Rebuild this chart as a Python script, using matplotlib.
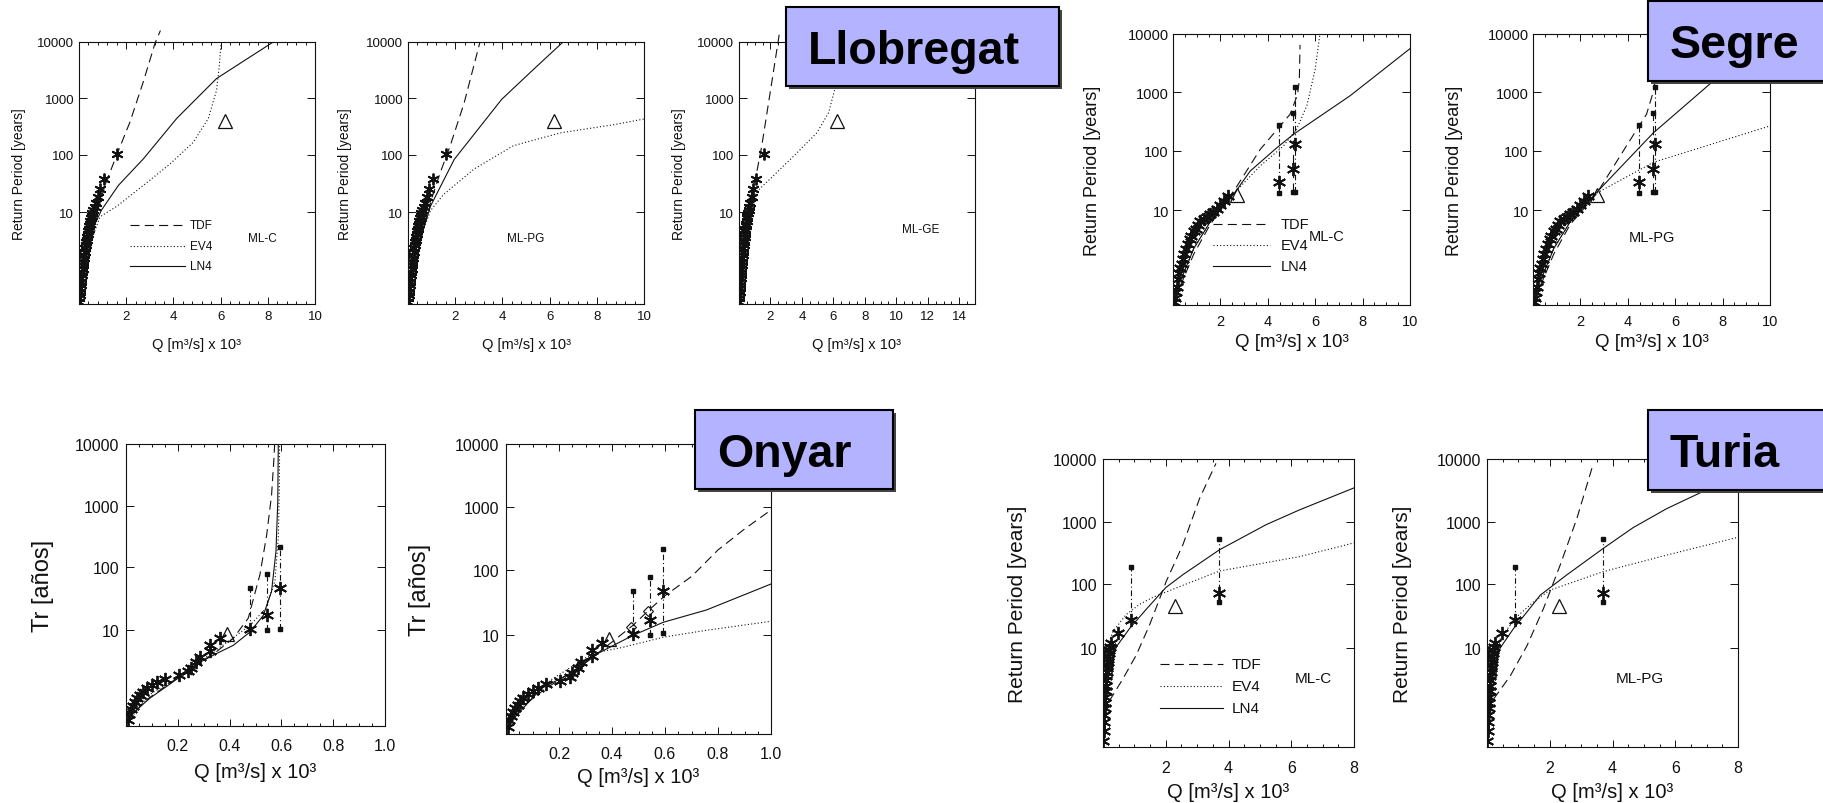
"""Gumbel return-period plots: Llobregat, Segre, Onyar and Turia flood fits."""
import numpy as np
import matplotlib
matplotlib.use("Agg")
import matplotlib.pyplot as plt
from matplotlib.patches import Rectangle
from matplotlib.ticker import NullLocator

# ---------------------------------------------------------------------------
# Data (Q in m3/s x 10^3, T = return period in years)
# ---------------------------------------------------------------------------
T_TICKS = [10, 100, 1000, 10000]

# Llobregat: observed annual maxima and historical flood (triangle)
LLOB_Q = [1.60, 1.05, 0.90, 0.80, 0.72, 0.66, 0.61, 0.57, 0.54, 0.51, 0.48,
          0.46, 0.43, 0.41, 0.39, 0.37, 0.35, 0.33, 0.31, 0.29, 0.27, 0.25,
          0.23, 0.21, 0.19, 0.17, 0.15, 0.13, 0.115, 0.10, 0.085, 0.07,
          0.055, 0.04, 0.03, 0.02, 0.01]
LLOB_T = [102, 38, 25, 18, 14.5, 12.5, 11, 9.8, 8.8, 8.0, 7.2, 6.5, 5.9, 5.4,
          4.9, 4.4, 4.0, 3.6, 3.3, 3.0, 2.7, 2.45, 2.2, 2.0, 1.82, 1.66, 1.52,
          1.41, 1.33, 1.26, 1.2, 1.15, 1.11, 1.07, 1.05, 1.03, 1.015]
LLOB_TRI_Q = [6.2]
LLOB_TRI_T = [390]

# Llobregat ML-C
L1_TDF_Q = [0.3, 0.55, 0.8, 1.1, 1.6, 2.16, 2.73, 3.22, 3.45]
L1_TDF_T = [1.6, 4.5, 11, 29, 100, 380, 2000, 9500, 16000]
L1_EV4_Q = [0.3, 0.6, 0.89, 1.6, 2.73, 3.86, 4.84, 5.48, 5.83, 5.95, 6.02]
L1_EV4_T = [1.6, 4.2, 8.4, 12.6, 29, 69, 166, 440, 1400, 4000, 10000]
L1_LN4_Q = [0.25, 0.54, 0.96, 1.67, 2.73, 4.14, 5.83, 8.23]
L1_LN4_T = [1.7, 5.1, 11, 29, 85, 440, 2250, 10000]
# Llobregat ML-PG
L2_TDF_Q = [0.3, 0.6, 1.04, 1.37, 1.79, 2.38, 3.05]
L2_TDF_T = [1.6, 4.5, 19, 49, 145, 830, 10000]
L2_EV4_Q = [0.3, 0.6, 0.95, 1.5, 2.8, 4.47, 6.48, 8.8, 10.0]
L2_EV4_T = [1.6, 4.5, 10.6, 20, 56, 145, 245, 345, 430]
L2_LN4_Q = [0.3, 0.6, 0.95, 1.96, 3.97, 5.31, 6.57]
L2_LN4_T = [1.6, 4.5, 12.6, 83, 960, 3240, 10000]
# Llobregat ML-GE
L3_TDF_Q = [0.2, 0.45, 0.7, 1.08, 1.45, 2.08, 2.58]
L3_TDF_T = [1.5, 5, 16.5, 42, 145, 1900, 15000]
L3_EV4_Q = [0.2, 0.45, 0.7, 1.08, 1.95, 3.45, 4.95, 5.7, 6.15, 6.35, 6.45]
L3_EV4_T = [1.5, 5, 14.4, 22, 37, 93, 245, 560, 1700, 5000, 10000]

# Segre
SEG_Q = [5.13, 5.08, 4.48, 2.3, 2.15, 2.0, 1.85, 1.7, 1.57, 1.45, 1.3, 1.15,
         1.05, 0.95, 0.87, 0.78, 0.7, 0.62, 0.55, 0.48, 0.42, 0.36, 0.31, 0.26,
         0.21, 0.17, 0.12, 0.08, 0.05]
SEG_T = [132, 48, 29.5, 17, 14, 12, 10.5, 9.4, 8.6, 7.8, 7.2, 6.7, 5.8, 5.1,
         4.6, 4.0, 3.5, 3.0, 2.6, 2.2, 1.95, 1.72, 1.55, 1.38, 1.25, 1.13,
         1.07, 1.035, 1.02]
SEG_TRI_Q = [2.7]
SEG_TRI_T = [18]
SEG_BAR_Q = [4.48, 5.08, 5.13]
SEG_BAR_LO = [19.4, 19.8, 19.8]
SEG_BAR_HI = [275, 440, 1230]
# Segre ML-C
S1_TDF_Q = [0.3, 0.87, 1.57, 2.7, 3.68, 4.94, 5.25, 5.33, 5.36]
S1_TDF_T = [1.13, 2.2, 5.9, 25, 105, 420, 900, 1600, 6500]
S1_EV4_Q = [0.3, 0.87, 1.57, 2.7, 3.68, 4.66, 5.22, 5.65, 6.0, 6.2]
S1_EV4_T = [1.2, 2.6, 6.5, 21.5, 55, 120, 235, 590, 2500, 10000]
S1_LN4_Q = [0.3, 0.87, 1.57, 2.0, 2.63, 3.26, 4.38, 5.08, 7.47, 10.0]
S1_LN4_T = [1.2, 2.6, 6.5, 10, 20, 45, 112, 190, 870, 5600]
# Segre ML-PG
S2_TDF_Q = [0.3, 0.87, 1.57, 2.68, 3.94, 4.79, 5.1, 5.4]
S2_TDF_T = [1.13, 2.2, 5.9, 18.6, 120, 420, 1100, 10000]
S2_EV4_Q = [0.3, 0.87, 1.57, 2.68, 5.07, 10.0]
S2_EV4_T = [1.2, 2.6, 6.5, 19, 63, 265]
S2_LN4_Q = [0.3, 0.87, 1.57, 2.68, 5.07, 7.6, 9.7]
S2_LN4_T = [1.2, 2.6, 6.5, 19.5, 200, 1550, 10000]

# Onyar
ONY_Q = [0.594, 0.543, 0.478, 0.362, 0.324, 0.326, 0.284, 0.272, 0.25, 0.24,
         0.203, 0.15, 0.12, 0.1, 0.082, 0.066, 0.054, 0.044, 0.035, 0.027,
         0.02, 0.013, 0.007]
ONY_T = [47, 17, 10.3, 7.5, 5.9, 4.9, 4.0, 3.4, 2.85, 2.6, 2.3, 2.1, 1.92,
         1.8, 1.66, 1.52, 1.43, 1.35, 1.27, 1.2, 1.15, 1.1, 1.05]
ONY_TRI_Q = [0.39]
ONY_TRI_T = [8.7]
ONY_BAR_Q = [0.478, 0.543, 0.594]
ONY_BAR_LO = [10.3, 10.0, 10.6]
ONY_BAR_HI = [47, 78, 215]
ONY_DIA_Q = [0.472, 0.534]
ONY_DIA_T = [13, 23]
# Onyar, left
O1_TDF_Q = [0.005, 0.067, 0.144, 0.25, 0.35, 0.414, 0.472, 0.517, 0.543,
            0.562, 0.571, 0.574]
O1_TDF_T = [1.04, 1.27, 1.68, 2.8, 4.8, 7.5, 15.4, 76, 330, 1480, 5650, 10000]
O1_EV4_Q = [0.005, 0.1, 0.2, 0.3, 0.4, 0.48, 0.54, 0.575, 0.588, 0.592, 0.593]
O1_EV4_T = [1.04, 1.5, 2.15, 3.8, 7.0, 12, 22, 60, 300, 2000, 10000]
O1_LN4_Q = [0.0, 0.028, 0.093, 0.183, 0.286, 0.35, 0.414, 0.479, 0.53, 0.562,
            0.579, 0.586, 0.588]
O1_LN4_T = [1.03, 1.11, 1.36, 1.95, 3.4, 4.5, 5.9, 9.4, 17, 41, 180, 1150,
            10000]
# Onyar, right
O2_TDF_Q = [0.01, 0.06, 0.15, 0.25, 0.35, 0.42, 0.48, 0.54, 0.6, 0.7, 0.8,
            0.9, 1.0]
O2_TDF_T = [1.05, 1.3, 1.9, 3.0, 5.5, 9, 14, 24, 40, 80, 210, 450, 900]
O2_EV4_Q = [0.03, 0.067, 0.167, 0.3, 0.354, 0.44, 0.594, 0.757, 1.0]
O2_EV4_T = [1.2, 1.31, 2.35, 4.6, 5.6, 6.5, 9.2, 11.7, 16]
O2_LN4_Q = [0.03, 0.13, 0.255, 0.35, 0.479, 0.594, 0.757, 1.0]
O2_LN4_T = [1.12, 1.88, 3.0, 5.4, 9.8, 15.5, 24, 61]

# Turia
TUR_Q = [3.7, 0.9, 0.48, 0.245, 0.22, 0.2, 0.19, 0.175, 0.16, 0.15, 0.14,
         0.13, 0.12, 0.11, 0.1, 0.09, 0.08, 0.07, 0.06, 0.05, 0.04, 0.03,
         0.02, 0.01]
TUR_T = [72, 27.5, 17, 12, 10.2, 9.2, 8.5, 7.6, 6.8, 6.1, 5.5, 5.0, 4.4, 3.9,
         3.4, 2.9, 2.45, 2.1, 1.8, 1.6, 1.4, 1.25, 1.12, 1.04]
TUR_TRI_Q = [2.3]
TUR_TRI_T = [45]
TUR_BAR_Q = [0.9, 3.7]
TUR_BAR_LO = [27.5, 52]
TUR_BAR_HI = [185, 520]
# Turia ML-C
T1_TDF_Q = [0.2, 0.64, 1.06, 1.49, 2.02, 2.55, 3.08, 3.6]
T1_TDF_T = [1.9, 3.6, 7.8, 23, 112, 430, 2350, 8500]
T1_EV4_Q = [0.01, 0.05, 0.13, 0.32, 0.74, 1.17, 1.6, 2.55, 3.72, 6.27, 8.0]
T1_EV4_T = [1.2, 4.8, 10, 18, 33, 48, 62, 96, 162, 275, 455]
T1_LN4_Q = [0.02, 0.05, 0.13, 0.27, 0.425, 0.85, 1.38, 2.0, 2.55, 3.72, 5.2,
            6.27, 8.0]
T1_LN4_T = [1.05, 1.55, 3.1, 6.2, 10.4, 20, 40, 88, 142, 355, 890, 1540, 3450]
# Turia ML-PG
T2_TDF_Q = [0.21, 0.74, 1.27, 1.8, 2.33, 2.86, 3.39]
T2_TDF_T = [2.0, 3.9, 10.7, 41, 200, 1100, 8500]
T2_EV4_Q = [0.01, 0.05, 0.15, 0.42, 0.9, 1.48, 2.0, 3.7, 5.72, 8.0]
T2_EV4_T = [1.2, 2.0, 5.0, 13.7, 29, 52, 80, 158, 290, 560]
T2_LN4_Q = [0.02, 0.085, 0.16, 0.26, 0.42, 0.85, 1.27, 1.7, 2.54, 3.7, 4.66,
            5.72, 7.1, 8.0]
T2_LN4_T = [1.05, 1.23, 2.3, 5.3, 10, 20, 36, 67, 140, 370, 800, 1600, 3400,
            5500]

# ---------------------------------------------------------------------------
# Style
# ---------------------------------------------------------------------------
FIG_W, FIG_H = 1823, 804
plt.rcParams["font.family"] = ["Liberation Sans", "DejaVu Sans"]
plt.rcParams["lines.scale_dashes"] = False
INK = "#111111"
LW = 0.8
STYLES = {
    "TDF": (0, (6.5, 3.8)),
    "EV4": (0, (0.8, 1.6)),
    "LN4": "-",
}
BAR_STYLE = (0, (4, 2, 0.8, 2))
ASTERISK = (6, 2, 0)
BOX_COLOR = "#b3b3ff"
QLABEL = "Q [m³/s] x 10³"
RPLABEL = "Return Period [years]"
TRLABEL = "Tr [años]"


def gumbel(t):
    t = np.clip(np.asarray(t, dtype=float), 1.0000001, None)
    return -np.log(-np.log(1.0 - 1.0 / t))


def gumbel_inv(y):
    y = np.asarray(y, dtype=float)
    return 1.0 / (1.0 - np.exp(-np.exp(-y)))


def px_rect(left, right, top, bottom):
    return [left / FIG_W, 1 - bottom / FIG_H,
            (right - left) / FIG_W, (bottom - top) / FIG_H]


def draw_panel(fig, p):
    ax = fig.add_axes(px_rect(*p["box"]))
    ax.set_yscale("function", functions=(gumbel, gumbel_inv))
    fs = p["fs"]

    for name, q, t, clip in p["curves"]:
        ax.plot(q, t, color=INK, lw=LW, linestyle=STYLES[name], clip_on=clip)

    for q, lo, hi, ls in p.get("bars", []):
        ax.plot([q, q], [lo, hi], color=INK, lw=LW, linestyle=ls)
        ax.plot([q, q], [lo, hi], linestyle="none", marker="s", ms=2.2,
                color=INK)

    q, t = p["obs"]
    ax.plot(q, t, linestyle="none", marker=ASTERISK, ms=p.get("ms", 9.5),
            mew=1.35, color=INK)
    q, t = p["tri"]
    ax.plot(q, t, linestyle="none", marker="^", ms=10, mfc="none", mec=INK,
            mew=0.9)
    if "dia" in p:
        q, t = p["dia"]
        ax.plot(q, t, linestyle="none", marker="D", ms=5, mfc="none",
                mec=INK, mew=0.8)

    ax.set_xlim(0, p["xmax"])
    ax.set_ylim(gumbel_inv(p["gmin"]), 10000)
    ax.set_yticks(T_TICKS)
    ax.set_yticklabels([str(v) for v in T_TICKS])
    ax.yaxis.set_minor_locator(NullLocator())
    ax.set_xticks(p["xticks"])
    ax.set_xticklabels(p["xticklabels"])
    ax.set_xticks(p["xminor"], minor=True)
    ax.tick_params(which="both", direction="in", top=True, right=True,
                   labelsize=fs[0], colors=INK, width=0.7)
    ax.tick_params(axis="y", which="major", length=6, pad=p["ypad"])
    ax.tick_params(axis="x", which="major", length=5, pad=p["xpad"])
    ax.tick_params(axis="x", which="minor", length=2.5)
    for sp in ax.spines.values():
        sp.set_linewidth(0.8)
        sp.set_color(INK)

    ax.set_ylabel(p["ylabel"], fontsize=fs[1], color=INK, ha="center",
                  va="center")
    ax.yaxis.set_label_coords(p["ylab"], 0.5)
    ax.set_xlabel(QLABEL, fontsize=fs[3], color=INK, va="center")
    ax.xaxis.set_label_coords(0.5, p["xlab"])

    if "legend" in p:
        x0, x1, xt, ys = p["legend"]
        for (name, _, _, _), y in zip(p["curves"], ys):
            ax.plot([x0, x1], [y, y], transform=ax.transAxes, color=INK,
                    lw=LW, linestyle=STYLES[name])
            ax.text(xt, y, name, transform=ax.transAxes, fontsize=fs[2],
                    color=INK, va="center", ha="left")
    if "tag" in p:
        txt, tx, ty = p["tag"]
        ax.text(tx, ty, txt, transform=ax.transAxes, fontsize=fs[2],
                color=INK, ha="center", va="center")
    return ax


def river_box(fig, name, left, right, top, bottom):
    w, h = (right - left) / FIG_W, (bottom - top) / FIG_H
    x, y = left / FIG_W, 1 - bottom / FIG_H
    fig.add_artist(Rectangle((x + 3 / FIG_W, y - 3 / FIG_H), w, h,
                             transform=fig.transFigure, facecolor="#444444",
                             edgecolor="none", zorder=5))
    fig.add_artist(Rectangle((x, y), w, h, transform=fig.transFigure,
                             facecolor=BOX_COLOR, edgecolor="black", lw=1.5,
                             zorder=6))
    fig.text((left + 22) / FIG_W, 1 - (top + 56) / FIG_H, name,
             fontsize=33.5, fontweight="bold", color="black", ha="left",
             va="baseline", zorder=7)


fig = plt.figure(figsize=(FIG_W / 100, FIG_H / 100), dpi=100)
fig.patch.set_facecolor("white")

X10 = dict(xmax=10, xticks=[2, 4, 6, 8, 10],
           xticklabels=["2", "4", "6", "8", "10"])
X8 = dict(xmax=8, xticks=[2, 4, 6, 8], xticklabels=["2", "4", "6", "8"],
          xminor=np.arange(0, 8.01, 0.5))
X1 = dict(xmax=1.0, xticks=[0.2, 0.4, 0.6, 0.8, 1.0],
          xticklabels=["0.2", "0.4", "0.6", "0.8", "1.0"],
          xminor=np.arange(0, 1.001, 0.05))

FS_LLOB = (9.5, 10, 8.5, 10.5)
FS_SEG = (10.5, 13, 10.5, 13.5)
FS_ONY = (11.5, 17, 11, 14.5)
FS_TUR = (11.5, 15, 11, 14.5)

panels = [
    dict(box=(79, 315, 43, 305), **X10, xminor=np.arange(0, 10.01, 0.4),
         gmin=-1.5, fs=FS_LLOB, ypad=3.5, xpad=4.5, ylab=-0.254,
         xlab=-0.153, ylabel=RPLABEL, ms=8.5,
         obs=(LLOB_Q, LLOB_T), tri=(LLOB_TRI_Q, LLOB_TRI_T),
         curves=[("TDF", L1_TDF_Q, L1_TDF_T, False),
                 ("EV4", L1_EV4_Q, L1_EV4_T, True),
                 ("LN4", L1_LN4_Q, L1_LN4_T, True)],
         legend=(0.216, 0.45, 0.47, (0.30, 0.223, 0.144)),
         tag=("ML-C", 0.777, 0.25)),
    dict(box=(408, 644, 43, 305), **X10, xminor=np.arange(0, 10.01, 0.4),
         gmin=-1.5, fs=FS_LLOB, ypad=3.5, xpad=4.5, ylab=-0.267,
         xlab=-0.153, ylabel=RPLABEL, ms=8.5,
         obs=(LLOB_Q, LLOB_T), tri=(LLOB_TRI_Q, LLOB_TRI_T),
         curves=[("TDF", L2_TDF_Q, L2_TDF_T, True),
                 ("EV4", L2_EV4_Q, L2_EV4_T, True),
                 ("LN4", L2_LN4_Q, L2_LN4_T, True)],
         tag=("ML-PG", 0.5, 0.25)),
    dict(box=(739, 975, 43, 305), xmax=15,
         xticks=[2, 4, 6, 8, 10, 12, 14],
         xticklabels=["2", "4", "6", "8", "10", "12", "14"],
         xminor=np.arange(0, 15.01, 0.5),
         gmin=-1.5, fs=FS_LLOB, ypad=3.5, xpad=4.5, ylab=-0.254,
         xlab=-0.153, ylabel=RPLABEL, ms=8.5,
         obs=(LLOB_Q, LLOB_T), tri=(LLOB_TRI_Q, LLOB_TRI_T),
         curves=[("TDF", L3_TDF_Q, L3_TDF_T, False),
                 ("EV4", L3_EV4_Q, L3_EV4_T, True)],
         tag=("ML-GE", 0.77, 0.285)),
    dict(box=(1173, 1410, 35, 306), **X10, xminor=np.arange(0, 10.01, 0.5),
         gmin=-1.5, fs=FS_SEG, ypad=3, xpad=6.5, ylab=-0.338,
         xlab=-0.135, ylabel=RPLABEL,
         obs=(SEG_Q, SEG_T), tri=(SEG_TRI_Q, SEG_TRI_T),
         bars=[(SEG_BAR_Q[0], SEG_BAR_LO[0], SEG_BAR_HI[0], BAR_STYLE),
               (SEG_BAR_Q[1], SEG_BAR_LO[1], SEG_BAR_HI[1], STYLES["TDF"]),
               (SEG_BAR_Q[2], SEG_BAR_LO[2], SEG_BAR_HI[2], BAR_STYLE)],
         curves=[("TDF", S1_TDF_Q, S1_TDF_T, True),
                 ("EV4", S1_EV4_Q, S1_EV4_T, True),
                 ("LN4", S1_LN4_Q, S1_LN4_T, True)],
         legend=(0.169, 0.41, 0.455, (0.30, 0.22, 0.145)),
         tag=("ML-C", 0.65, 0.255)),
    dict(box=(1533, 1770, 35, 306), **X10, xminor=np.arange(0, 10.01, 0.5),
         gmin=-1.5, fs=FS_SEG, ypad=3, xpad=6.5, ylab=-0.333,
         xlab=-0.135, ylabel=RPLABEL,
         obs=(SEG_Q, SEG_T), tri=(SEG_TRI_Q, SEG_TRI_T),
         bars=[(SEG_BAR_Q[0], SEG_BAR_LO[0], SEG_BAR_HI[0], BAR_STYLE),
               (SEG_BAR_Q[1], SEG_BAR_LO[1], SEG_BAR_HI[1], STYLES["TDF"]),
               (SEG_BAR_Q[2], SEG_BAR_LO[2], SEG_BAR_HI[2], BAR_STYLE)],
         curves=[("TDF", S2_TDF_Q, S2_TDF_T, True),
                 ("EV4", S2_EV4_Q, S2_EV4_T, True),
                 ("LN4", S2_LN4_Q, S2_LN4_T, True)],
         tag=("ML-PG", 0.5, 0.25)),
    dict(box=(126, 385, 445, 727), **X1, gmin=-1.33,
         fs=FS_ONY, ypad=5, xpad=9, ylab=-0.32, xlab=-0.163,
         ylabel=TRLABEL,
         obs=(ONY_Q, ONY_T), tri=(ONY_TRI_Q, ONY_TRI_T),
         bars=[(q, lo, hi, BAR_STYLE) for q, lo, hi in
               zip(ONY_BAR_Q, ONY_BAR_LO, ONY_BAR_HI)],
         curves=[("TDF", O1_TDF_Q, O1_TDF_T, True),
                 ("EV4", O1_EV4_Q, O1_EV4_T, True),
                 ("LN4", O1_LN4_Q, O1_LN4_T, True)]),
    dict(box=(506, 771, 445, 735), **X1, gmin=-1.37,
         fs=FS_ONY, ypad=5, xpad=9, ylab=-0.325, xlab=-0.148,
         ylabel=TRLABEL,
         obs=(ONY_Q, ONY_T), tri=(ONY_TRI_Q, ONY_TRI_T),
         dia=(ONY_DIA_Q, ONY_DIA_T),
         bars=[(q, lo, hi, BAR_STYLE) for q, lo, hi in
               zip(ONY_BAR_Q, ONY_BAR_LO, ONY_BAR_HI)],
         curves=[("TDF", O2_TDF_Q, O2_TDF_T, True),
                 ("EV4", O2_EV4_Q, O2_EV4_T, True),
                 ("LN4", O2_LN4_Q, O2_LN4_T, True)]),
    dict(box=(1103, 1354, 460, 748), **X8, gmin=-1.4,
         fs=FS_TUR, ypad=4, xpad=9.5, ylab=-0.34, xlab=-0.153,
         ylabel=RPLABEL,
         obs=(TUR_Q, TUR_T), tri=(TUR_TRI_Q, TUR_TRI_T),
         bars=[(q, lo, hi, BAR_STYLE) for q, lo, hi in
               zip(TUR_BAR_Q, TUR_BAR_LO, TUR_BAR_HI)],
         curves=[("TDF", T1_TDF_Q, T1_TDF_T, True),
                 ("EV4", T1_EV4_Q, T1_EV4_T, True),
                 ("LN4", T1_LN4_Q, T1_LN4_T, True)],
         legend=(0.226, 0.478, 0.511, (0.289, 0.212, 0.136)),
         tag=("ML-C", 0.837, 0.24)),
    dict(box=(1487, 1738, 460, 748), **X8, gmin=-1.4,
         fs=FS_TUR, ypad=4, xpad=9.5, ylab=-0.335, xlab=-0.153,
         ylabel=RPLABEL,
         obs=(TUR_Q, TUR_T), tri=(TUR_TRI_Q, TUR_TRI_T),
         bars=[(q, lo, hi, BAR_STYLE) for q, lo, hi in
               zip(TUR_BAR_Q, TUR_BAR_LO, TUR_BAR_HI)],
         curves=[("TDF", T2_TDF_Q, T2_TDF_T, True),
                 ("EV4", T2_EV4_Q, T2_EV4_T, True),
                 ("LN4", T2_LN4_Q, T2_LN4_T, True)],
         tag=("ML-PG", 0.61, 0.24)),
]

for p in panels:
    draw_panel(fig, p)

river_box(fig, "Llobregat", 786, 1059, 8, 87)
river_box(fig, "Segre", 1648, 1840, 2, 82)
river_box(fig, "Onyar", 695, 893, 411, 490)
river_box(fig, "Turia", 1648, 1840, 411, 491)

fig.savefig("out.png", dpi=100, facecolor="white")
